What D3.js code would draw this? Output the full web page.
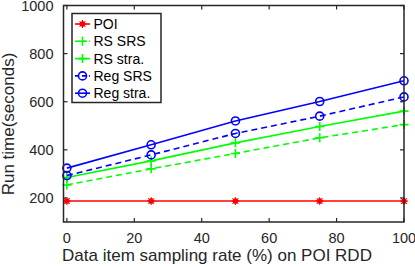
<!DOCTYPE html>
<html lang="en">
<head>
<meta charset="UTF-8">
<title>Run time vs sampling rate</title>
<script src="https://cdnjs.cloudflare.com/ajax/libs/d3/7.8.5/d3.min.js"></script>
<style>
    body { margin: 0; background: #fff; }
    svg { display: block; font-family: "Liberation Sans", Arial, sans-serif; }
    .tick-label { font-size: 14.5px; fill: #262626; }
    .axis-title { font-size: 17px; fill: #262626; }
    .legend-text { font-size: 14px; fill: #000; }
</style>
</head>
<body>
<div id="chart"></div>
<script>
    const rates = [0, 25, 50, 75, 100];
    const xTicks = [0, 20, 40, 60, 80, 100];
    const yTicks = [200, 400, 600, 800, 1000];

    const poi = [187, 187, 187, 187, 187];
    const rsSrs = [254, 321, 385, 450, 505];
    const rsStra = [285, 354, 429, 497, 561];
    const regSrs = [293, 379, 468, 540, 620];
    const regStra = [324, 421, 520, 601, 687];

    const seriesNames = ["POI", "RS SRS", "RS stra.", "Reg SRS", "Reg stra."];

    const width = 415, height = 267;
    const margin = { top: 5.5, right: 11, bottom: 45, left: 63.5 };

    const x = d3.scaleLinear().domain([-1, 100]).range([margin.left, width - margin.right]);
    const y = d3.scaleLinear().domain([100, 1000]).range([height - margin.bottom, margin.top]);

    const series = [
        { name: seriesNames[0], values: poi, color: "#ff0000", dash: null, marker: "star" },
        { name: seriesNames[1], values: rsSrs, color: "#00ff00", dash: "6,4", marker: "plus" },
        { name: seriesNames[2], values: rsStra, color: "#00ff00", dash: null, marker: "plus" },
        { name: seriesNames[3], values: regSrs, color: "#0000ff", dash: "6,4", marker: "circle" },
        { name: seriesNames[4], values: regStra, color: "#0000ff", dash: null, marker: "circle" }
    ];

    const svg = d3.select("#chart").append("svg")
        .attr("width", width)
        .attr("height", height);

    const axisColor = "#262626";
    const x0 = margin.left, x1 = width - margin.right;
    const y0 = height - margin.bottom, y1 = margin.top;

    // inward ticks on all four sides
    const tickLen = 4;
    const grid = svg.append("g").attr("stroke", axisColor).attr("stroke-width", 1.2);
    xTicks.forEach(t => {
        grid.append("line").attr("x1", x(t)).attr("x2", x(t)).attr("y1", y0).attr("y2", y0 - tickLen);
        grid.append("line").attr("x1", x(t)).attr("x2", x(t)).attr("y1", y1).attr("y2", y1 + tickLen);
    });
    yTicks.forEach(t => {
        grid.append("line").attr("y1", y(t)).attr("y2", y(t)).attr("x1", x0).attr("x2", x0 + tickLen);
        grid.append("line").attr("y1", y(t)).attr("y2", y(t)).attr("x1", x1).attr("x2", x1 - tickLen);
    });

    svg.selectAll(".xl").data(xTicks).enter().append("text")
        .attr("class", "tick-label")
        .attr("x", d => x(d))
        .attr("y", y0 + 20.5)
        .attr("text-anchor", "middle")
        .text(d => d);

    svg.selectAll(".yl").data(yTicks).enter().append("text")
        .attr("class", "tick-label")
        .attr("x", x0 - 10)
        .attr("y", d => y(d))
        .attr("dy", "0.36em")
        .attr("text-anchor", "end")
        .text(d => d);

    svg.append("text")
        .attr("class", "axis-title")
        .attr("x", 217)
        .attr("y", height - 6)
        .attr("text-anchor", "middle")
        .text("Data item sampling rate (%) on POI RDD");

    svg.append("text")
        .attr("class", "axis-title")
        .attr("transform", "translate(14, 124) rotate(-90)")
        .attr("text-anchor", "middle")
        .text("Run time(seconds)");

    // markers
    function drawMarker(g, cx, cy, type, color) {
        if (type === "star") {
            g.append("circle").attr("cx", cx).attr("cy", cy).attr("r", 2.8).attr("fill", color);
            [[-4, 0, 4, 0], [0, -4, 0, 4], [-3, -3, 3, 3], [-3, 3, 3, -3]].forEach(s => {
                g.append("line")
                    .attr("x1", cx + s[0]).attr("y1", cy + s[1])
                    .attr("x2", cx + s[2]).attr("y2", cy + s[3])
                    .attr("stroke", color).attr("stroke-width", 1);
            });
        } else if (type === "plus") {
            g.append("path")
                .attr("d", `M${cx - 4.5},${cy}H${cx + 4.5}M${cx},${cy - 4.5}V${cy + 4.5}`)
                .attr("stroke", color).attr("stroke-width", 1.6);
        } else {
            g.append("circle").attr("cx", cx).attr("cy", cy).attr("r", 4)
                .attr("fill", "none").attr("stroke", color).attr("stroke-width", 1.6);
        }
    }

    const line = d3.line().x((d, i) => x(rates[i])).y(d => y(d));

    series.forEach(s => {
        svg.append("path")
            .attr("d", line(s.values))
            .attr("fill", "none")
            .attr("stroke", s.color)
            .attr("stroke-width", 1.6)
            .attr("stroke-dasharray", s.dash);
        const g = svg.append("g");
        s.values.forEach((v, i) => drawMarker(g, x(rates[i]), y(v), s.marker, s.color));
    });

    // frame
    svg.append("rect")
        .attr("x", x0).attr("y", y1)
        .attr("width", x1 - x0).attr("height", y0 - y1)
        .attr("fill", "none")
        .attr("stroke", axisColor)
        .attr("stroke-width", 1.5);

    // legend
    const legend = svg.append("g").attr("transform", "translate(72, 13.5)");
    legend.append("rect")
        .attr("width", 89).attr("height", 89)
        .attr("fill", "#fff")
        .attr("stroke", axisColor)
        .attr("stroke-width", 1.5);

    series.forEach((s, i) => {
        const ly = 10.5 + i * 17.3;
        legend.append("line")
            .attr("x1", 3).attr("x2", 18).attr("y1", ly).attr("y2", ly)
            .attr("stroke", s.color).attr("stroke-width", 1.6)
            .attr("stroke-dasharray", s.dash ? "4,3" : null);
        drawMarker(legend, 10.5, ly, s.marker, s.color);
        legend.append("text")
            .attr("class", "legend-text")
            .attr("x", 21.5)
            .attr("y", ly)
            .attr("dy", "0.35em")
            .text(s.name);
    });
</script>
</body>
</html>
